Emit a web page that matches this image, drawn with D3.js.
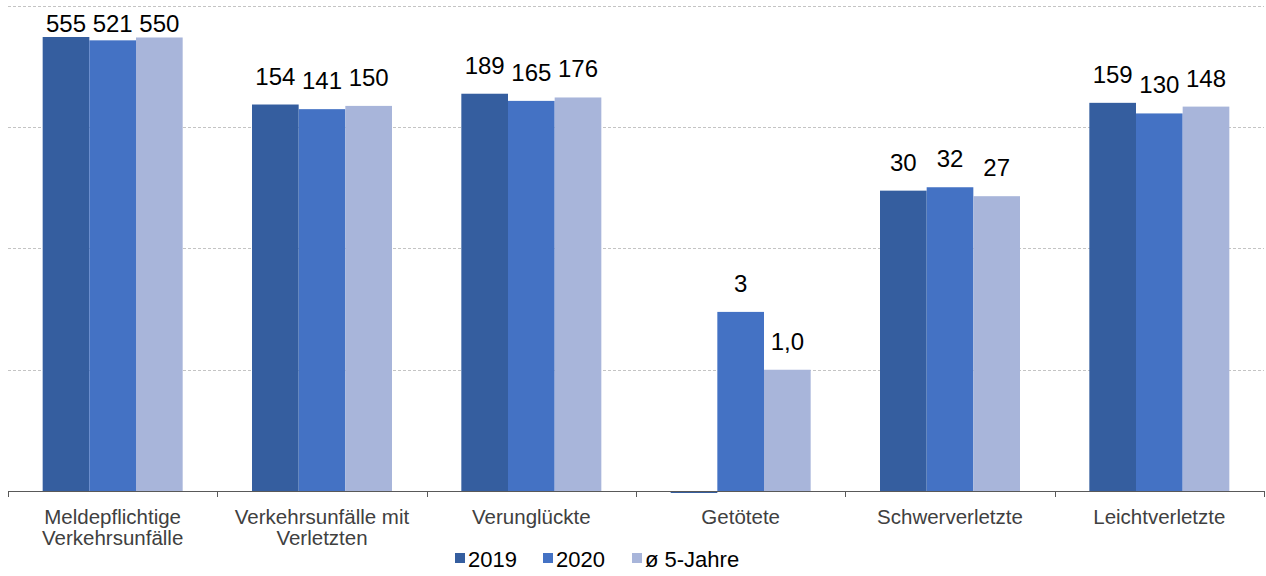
<!DOCTYPE html>
<html>
<head>
<meta charset="utf-8">
<script src="https://cdn.jsdelivr.net/npm/d3@7"></script>
<style>
  body { margin: 0; background: #fff; }
  svg { display: block; font-family: "Liberation Sans", Arial, sans-serif; }
</style>
</head>
<body>
<div id="wrapper"></div>
<script>
// data
const categories = [
    ["Meldepflichtige", "Verkehrsunfälle"],
    ["Verkehrsunfälle mit", "Verletzten"],
    ["Verunglückte"],
    ["Getötete"],
    ["Schwerverletzte"],
    ["Leichtverletzte"]
]
const seriesNames = ["2019", "2020", "ø 5-Jahre"]
const values2019 = [555, 154, 189, 0, 30, 159]
const values2020 = [521, 141, 165, 3, 32, 130]
const valuesAvg = [550, 150, 176, 1.0, 27, 148]
const labelsAvg = ["550", "150", "176", "1,0", "27", "148"]
const colors = ["#355E9F", "#4472C4", "#A8B5DA"]
const gridValues = [1, 10, 100, 1000]

const seriesValues = [values2019, values2020, valuesAvg]

let dimensions = {
    width: 1266,
    height: 576,
    margins: { top: 6, right: 2, bottom: 85, left: 8 }
}
dimensions.boundedWidth = dimensions.width - dimensions.margins.left - dimensions.margins.right
dimensions.boundedHeight = dimensions.height - dimensions.margins.top - dimensions.margins.bottom

const wrapper = d3.select("#wrapper")
    .append("svg")
        .attr("width", dimensions.width)
        .attr("height", dimensions.height)

const bounds = wrapper.append("g")
    .attr("transform", `translate(${dimensions.margins.left},${dimensions.margins.top})`)

// log scale from 0.1 to 1000
const yScale = d3.scaleLog()
    .domain([0.1, 1000])
    .range([dimensions.boundedHeight, 0])

const xScale = d3.scaleBand()
    .domain(d3.range(categories.length))
    .range([0, dimensions.boundedWidth])
    .paddingInner(0)
    .paddingOuter(0)

// group of 3 bars is ~140px wide inside a ~209px band
const innerScale = d3.scaleBand()
    .domain(d3.range(seriesNames.length))
    .range([0, xScale.bandwidth()])
    .paddingInner(0)
    .paddingOuter((xScale.bandwidth() - 140) / 2 / (140 / 3))

// gridlines
bounds.append("g")
    .selectAll("line")
    .data(gridValues)
    .join("line")
        .attr("x1", 0)
        .attr("x2", dimensions.boundedWidth)
        .attr("y1", d => Math.round(yScale(d)) + 0.5)
        .attr("y2", d => Math.round(yScale(d)) + 0.5)
        .attr("stroke", "#c4c4c4")
        .attr("stroke-dasharray", "3,2")

// bars
const groups = bounds.selectAll(".group")
    .data(categories.map((c, i) => i))
    .join("g")
        .attr("transform", i => `translate(${xScale(i)},0)`)

groups.selectAll("rect")
    .data(i => seriesValues.map((s, k) => ({ k, v: s[i], i })))
    .join("rect")
        .attr("x", d => innerScale(d.k))
        .attr("width", innerScale.bandwidth())
        .attr("y", d => d.v > 0 ? yScale(d.v) : dimensions.boundedHeight)
        .attr("height", d => d.v > 0 ? dimensions.boundedHeight - yScale(d.v) : 2)
        .attr("fill", d => colors[d.k])

// value labels
groups.selectAll("text")
    .data(i => seriesValues.map((s, k) => ({ k, v: s[i], i })).filter(d => d.v > 0))
    .join("text")
        .attr("x", d => innerScale(d.k) + innerScale.bandwidth() / 2)
        .attr("y", d => Math.max(yScale(d.v) - 20, 26))
        .attr("text-anchor", "middle")
        .style("font-size", "24px")
        .attr("fill", "#000")
        .text(d => d.k === 2 ? labelsAvg[d.i] : d.v)

// x axis
const xAxis = bounds.append("g")
    .attr("transform", `translate(0,${dimensions.boundedHeight})`)

xAxis.append("line")
    .attr("x1", 0)
    .attr("x2", dimensions.boundedWidth)
    .attr("y1", 0.5)
    .attr("y2", 0.5)
    .attr("stroke", "#595959")

xAxis.selectAll(".tick")
    .data(d3.range(categories.length + 1))
    .join("line")
        .attr("x1", i => Math.round(i * xScale.step()) + 0.5)
        .attr("x2", i => Math.round(i * xScale.step()) + 0.5)
        .attr("y1", 0)
        .attr("y2", 6)
        .attr("stroke", "#595959")

const xLabels = xAxis.selectAll(".xlabel")
    .data(categories)
    .join("text")
        .attr("x", (d, i) => xScale(i) + xScale.bandwidth() / 2)
        .attr("y", 33)
        .attr("text-anchor", "middle")
        .style("font-size", "20.5px")
        .attr("fill", "#404040")

xLabels.selectAll("tspan")
    .data(d => d)
    .join("tspan")
        .attr("x", function() { return d3.select(this.parentNode).attr("x") })
        .attr("dy", (d, j) => j === 0 ? 0 : 21)
        .text(d => d)

// legend
const legendX = [455, 543, 632]
const legend = wrapper.append("g")
    .selectAll("g")
    .data(seriesNames)
    .join("g")
        .attr("transform", (d, i) => `translate(${legendX[i]},567)`)

legend.append("rect")
    .attr("x", 0)
    .attr("y", -14)
    .attr("width", 10)
    .attr("height", 10)
    .attr("fill", (d, i) => colors[i])

legend.append("text")
    .attr("x", 13)
    .attr("y", 0)
    .style("font-size", "22px")
    .attr("fill", "#000")
    .text(d => d)
</script>
</body>
</html>
